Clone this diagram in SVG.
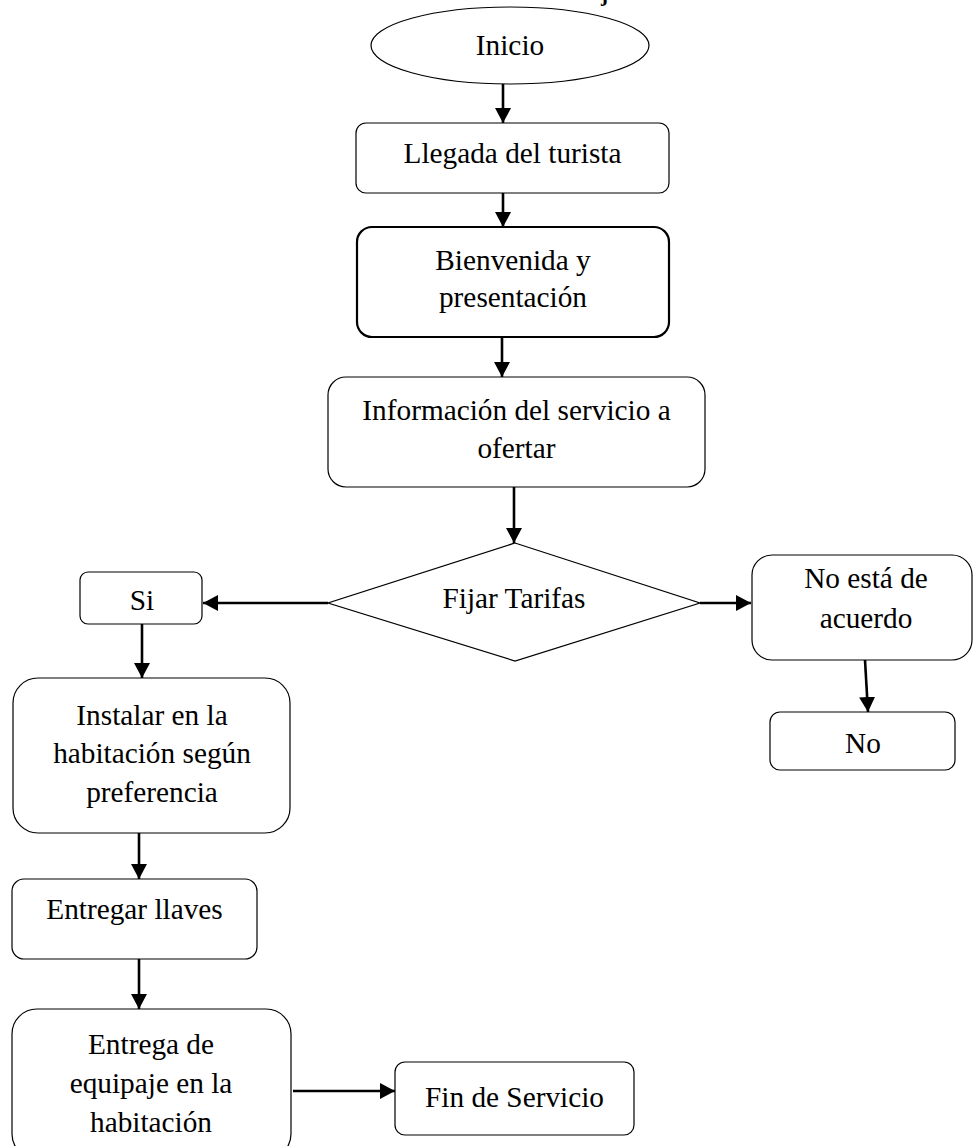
<svg xmlns="http://www.w3.org/2000/svg" width="973" height="1146" viewBox="0 0 973 1146">
  <style>
    .box { fill: #ffffff; stroke: #000000; stroke-width: 1.2; }
    .bold-box { fill: #ffffff; stroke: #000000; stroke-width: 2.2; }
    .lbl { font-family: "Liberation Serif", "Times New Roman", serif; font-size: 29.3px; fill: #000000; text-anchor: middle; }
    .title { font-family: "Liberation Serif", "Times New Roman", serif; font-size: 21px; font-weight: bold; fill: #000000; }
    .edge { fill: none; stroke: #000000; stroke-width: 2.6; }
  </style>
  <defs>
    <marker id="arrow" markerUnits="userSpaceOnUse" markerWidth="15" markerHeight="16" refX="15" refY="8" orient="auto">
      <path d="M0,0 L15,8 L0,16 z" fill="#000000"/>
    </marker>
  </defs>

  <rect width="973" height="1146" fill="#ffffff"/>

  <!-- heading, cut off at the top edge -->
  <text class="title" x="601" y="1">j</text>

  <g id="inicio">
    <ellipse class="box" cx="510" cy="45.5" rx="139" ry="38.5"/>
    <text class="lbl" x="510" y="55">Inicio</text>
  </g>

  <g id="llegada">
    <rect class="box" x="356" y="123" width="313" height="70" rx="10"/>
    <text class="lbl" x="512.5" y="163">Llegada del turista</text>
  </g>

  <g id="bienvenida">
    <rect class="bold-box" x="357" y="227" width="312" height="110" rx="15"/>
    <text class="lbl" x="513" y="270">Bienvenida y</text>
    <text class="lbl" x="513" y="307">presentación</text>
  </g>

  <g id="informacion">
    <rect class="box" x="328" y="377" width="377" height="110" rx="18"/>
    <text class="lbl" x="516.5" y="420">Información del servicio a</text>
    <text class="lbl" x="516.5" y="458">ofertar</text>
  </g>

  <g id="tarifas">
    <polygon class="box" points="515,543 700,603 515,661 328,603"/>
    <text class="lbl" x="514" y="608">Fijar Tarifas</text>
  </g>

  <g id="si">
    <rect class="box" x="80" y="572" width="122" height="52" rx="8"/>
    <text class="lbl" x="142" y="610">Si</text>
  </g>

  <g id="no-acuerdo">
    <rect class="box" x="752" y="555" width="220" height="105" rx="20"/>
    <text class="lbl" x="866" y="588">No está de</text>
    <text class="lbl" x="866" y="628">acuerdo</text>
  </g>

  <g id="no">
    <rect class="box" x="770" y="712" width="185" height="58" rx="10"/>
    <text class="lbl" x="863" y="753">No</text>
  </g>

  <g id="instalar">
    <rect class="box" x="13" y="678" width="277" height="155" rx="25"/>
    <text class="lbl" x="152" y="725">Instalar en la</text>
    <text class="lbl" x="152" y="763">habitación según</text>
    <text class="lbl" x="152" y="802">preferencia</text>
  </g>

  <g id="llaves">
    <rect class="box" x="12" y="879" width="245" height="80" rx="12"/>
    <text class="lbl" x="134.5" y="919">Entregar llaves</text>
  </g>

  <g id="equipaje">
    <rect class="box" x="12" y="1009" width="279" height="150" rx="25"/>
    <text class="lbl" x="151" y="1054">Entrega de</text>
    <text class="lbl" x="151" y="1093">equipaje en la</text>
    <text class="lbl" x="151" y="1132">habitación</text>
  </g>

  <g id="fin">
    <rect class="box" x="395" y="1062" width="239" height="73" rx="10"/>
    <text class="lbl" x="514.5" y="1107">Fin de Servicio</text>
  </g>

  <g id="connectors">
    <line class="edge" x1="503" y1="84" x2="503" y2="123" marker-end="url(#arrow)"/>
    <line class="edge" x1="503" y1="193" x2="503" y2="227" marker-end="url(#arrow)"/>
    <line class="edge" x1="502" y1="337" x2="502" y2="377" marker-end="url(#arrow)"/>
    <line class="edge" x1="514" y1="487" x2="514" y2="543" marker-end="url(#arrow)"/>
    <line class="edge" x1="328" y1="603" x2="203" y2="603" marker-end="url(#arrow)"/>
    <line class="edge" x1="700" y1="603" x2="751" y2="603" marker-end="url(#arrow)"/>
    <line class="edge" x1="865" y1="660" x2="868" y2="712" marker-end="url(#arrow)"/>
    <line class="edge" x1="142" y1="624" x2="142" y2="678" marker-end="url(#arrow)"/>
    <line class="edge" x1="139" y1="833" x2="139" y2="879" marker-end="url(#arrow)"/>
    <line class="edge" x1="139" y1="959" x2="139" y2="1009" marker-end="url(#arrow)"/>
    <line class="edge" x1="293" y1="1091" x2="395" y2="1091" marker-end="url(#arrow)"/>
  </g>
</svg>
